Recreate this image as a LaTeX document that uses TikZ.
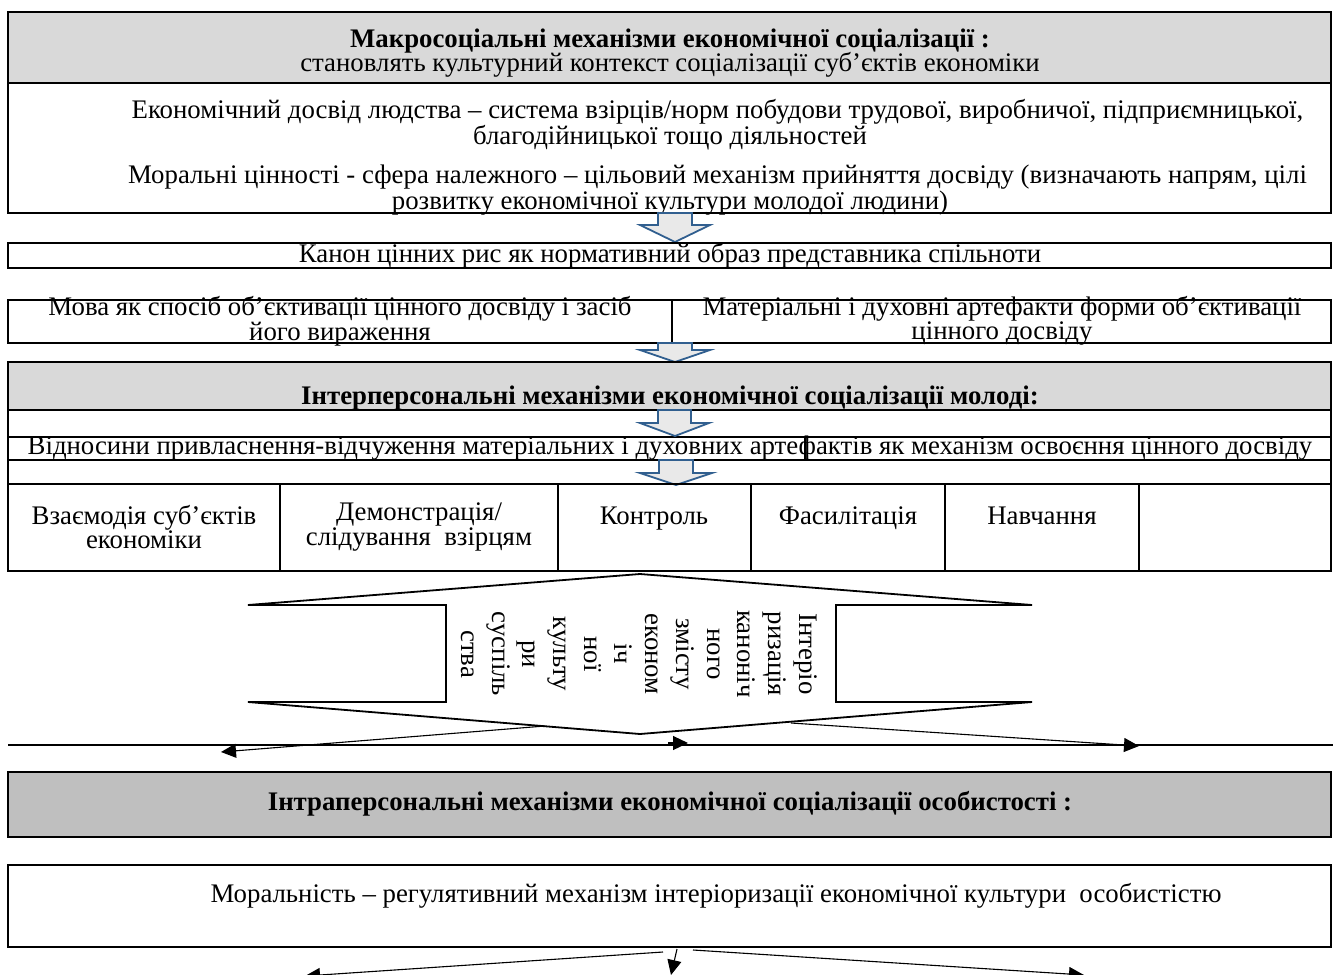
\documentclass[tikz,border=0pt]{standalone}
\usepackage{fontspec}
\setmainfont{Liberation Serif}
\usetikzlibrary{arrows.meta}
\definecolor{gA}{RGB}{217,217,217}
\definecolor{gB}{RGB}{191,191,191}
\definecolor{arB}{RGB}{49,95,143}
\definecolor{arF}{RGB}{233,233,233}
\begin{document}
\begin{tikzpicture}[x=1pt,y=-1pt,
  box/.style={draw=black, line width=1.8pt},
  txt/.style={font=\fontsize{26.8}{20}\selectfont, inner sep=0pt, align=center},
  btxt/.style={font=\fontsize{26.8}{20}\selectfont\bfseries, inner sep=0pt, align=center},
  barrow/.style={draw=arB, fill=arF, line width=1.8pt, line join=miter},
  conn/.style={line width=1.1pt, -{Triangle[length=15pt,width=14pt]}},
  hline/.style={line width=1.8pt},
]
\useasboundingbox (0,0) rectangle (1337,974);

% ---- Macro level
\filldraw[box, fill=gA] (8,12) rectangle (1331,83);
\node[btxt] (t1) at (670,41) {Макросоціальні механізми економічної соціалізації :};
\node[txt] (t2) at (670,65) {становлять культурний контекст соціалізації суб’єктів економіки};

\draw[box] (8,83) rectangle (1331,213);
\node[txt, font=\fontsize{26.8}{18.5}\selectfont] (p1) at (670,125)
  {\hspace*{95pt}Економічний досвід людства – система взірців/норм побудови трудової, виробничої, підприємницької,\\благодійницької тощо діяльностей};
\node[txt, font=\fontsize{26.8}{20.5}\selectfont] (p2) at (670,190)
  {\hspace*{95pt}Моральні цінності - сфера належного – цільовий механізм прийняття досвіду (визначають напрям, цілі\\розвитку економічної культури молодої людини)};

\draw[barrow] (658,213) -- (692,213) -- (692,225) -- (710,225) -- (675,242) -- (640,225) -- (658,225) -- cycle;

\draw[box] (8,243) rectangle (1331,268);
\node[txt] (canon) at (670,256) {Канон цінних рис як нормативний образ представника спільноти};

\draw[box] (8,300) rectangle (1331,343);
\draw[box] (672,300) -- (672,343);
\node[txt, font=\fontsize{26.8}{21}\selectfont] (mova) at (340,321) {Мова як спосіб об’єктивації цінного досвіду і засіб\\його вираження};
\node[txt, font=\fontsize{26.8}{21}\selectfont] (art) at (1002,321) {Матеріальні і духовні артефакти форми об’єктивації\\цінного досвіду};

\draw[barrow] (658,343) -- (692,343) -- (692,350) -- (710,350) -- (675,362) -- (640,350) -- (658,350) -- cycle;

% ---- Interpersonal level
\filldraw[box, fill=gA] (8,362) rectangle (1331,410);
\node[btxt] (t3) at (670,398) {Інтерперсональні механізми економічної соціалізації молоді:};

\draw[box] (8,410) rectangle (1331,437);
\draw[box] (8,437) rectangle (1331,460);
\draw[box] (8,460) rectangle (1331,484);
\draw[line width=1.2pt] (805,437) -- (805,460);
\node[txt] (rel) at (670,448) {Відносини привласнення-відчуження матеріальних і духовних артефактів як механізм освоєння цінного досвіду};

\draw[barrow] (658,410) -- (691,410) -- (691,423) -- (709,423) -- (675,436) -- (640,423) -- (658,423) -- cycle;
\draw[barrow] (659,460) -- (693,460) -- (693,473) -- (712,473) -- (676,485) -- (640,473) -- (659,473) -- cycle;

\draw[box] (8,484) rectangle (1331,571);
\foreach \cx in {280,558,751,945,1139} {\draw[box] (\cx,484) -- (\cx,571);}
\node[txt] (c1) at (144,527) {Взаємодія суб’єктів\\економіки};
\node[txt] (c2) at (419,527) {Демонстрація/\\слідування\ \ взірцям};
\node[txt, anchor=base] (c3) at (654,524) {Контроль};
\node[txt, anchor=base] (c4) at (848,524) {Фасилітація};
\node[txt, anchor=base] (c5) at (1042,524) {Навчання};

% ---- Internalisation shape
\draw[line width=1.8pt, fill=white, line join=miter]
  (640,574) -- (1032,605) -- (836,605) -- (836,702) -- (1032,702) -- (640,734)
  -- (248,702) -- (446,702) -- (446,605) -- (248,605) -- cycle;
\node[txt, rotate=-90, font=\fontsize{26.8}{30.7}\selectfont] (vt) at (639,654)
  {Інтеріо\\ризація\\канoніч\\ного\\змісту\\економ\\іч\\ної\\культу\\ри\\суспіль\\ства};

\draw[hline] (8,745) -- (1333,745);
\coordinate (s1) at (545,726);
\coordinate (e1) at (221,752);
\coordinate (s2) at (668,743);
\coordinate (e2) at (688,743);
\coordinate (s3) at (791,723);
\coordinate (e3) at (1139,746);
\draw[conn] (s1) -- (e1);
\draw[conn] (s2) -- (e2);
\draw[conn] (s3) -- (e3);

% ---- Intrapersonal level
\filldraw[box, fill=gB] (8,772) rectangle (1331,837);
\node[btxt] (t4) at (670,804) {Інтраперсональні механізми економічної соціалізації особистості :};

\draw[box] (8,865) rectangle (1331,947);
\node[txt] (mor) at (716,896) {Моральність – регулятивний механізм інтеріоризації економічної культури\ \ особистістю};

\coordinate (b1) at (663,952);
\coordinate (f1) at (305,976);
\coordinate (b2) at (677,949);
\coordinate (f2) at (671,975);
\coordinate (b3) at (693,950);
\coordinate (f3) at (1084,975);
\draw[conn] (b1) -- (f1);
\draw[conn] (b2) -- (f2);
\draw[conn] (b3) -- (f3);
\end{tikzpicture}
\end{document}
